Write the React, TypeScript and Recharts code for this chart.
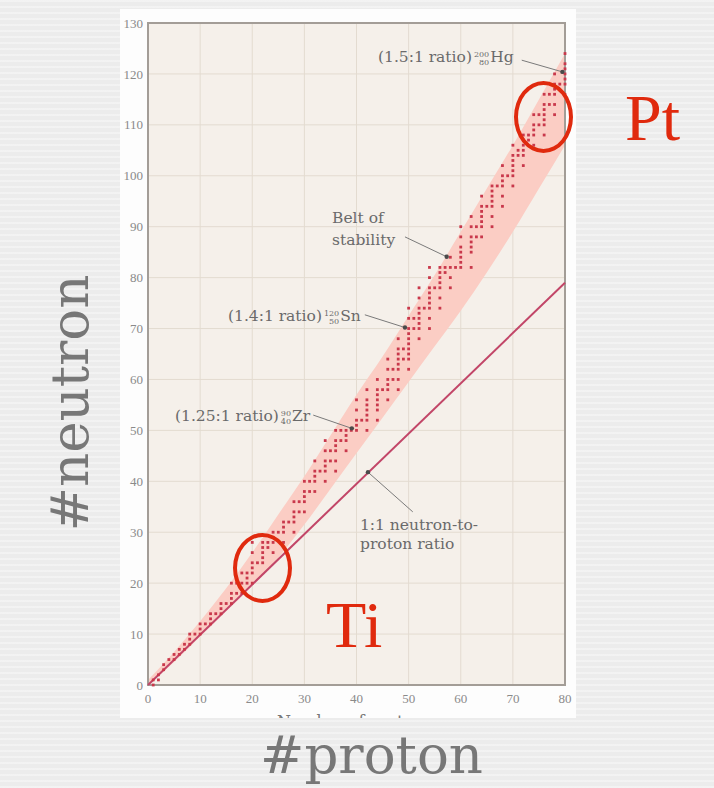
import {
  Area,
  CartesianGrid,
  ComposedChart,
  Line,
  ReferenceArea,
  ReferenceDot,
  ReferenceLine,
  Scatter,
  XAxis,
  YAxis,
} from 'recharts';

// axis ticks
const PROTON_TICKS = [0, 10, 20, 30, 40, 50, 60, 70, 80];
const NEUTRON_TICKS = [0, 10, 20, 30, 40, 50, 60, 70, 80, 90, 100, 110, 120, 130];

// belt of stability, lower / upper neutron edge at each proton number
const BELT_Z = [0, 5, 10, 15, 20, 25, 30, 35, 40, 45, 50, 55, 60, 65, 70, 75, 80];
const BELT_LOW = [0, 4.5, 9.5, 14.5, 19.5, 25, 31.5, 38.5, 45.5, 52.5, 59.5, 66.5, 73.5, 81, 89, 97.5, 106];
const BELT_HIGH = [1, 6.5, 12.5, 19, 26, 33.5, 41, 49, 57, 64.5, 72.5, 80.5, 89, 97.5, 106, 115, 124];

// 1:1 neutron-to-proton line
const RATIO_Z = [0, 80];
const RATIO_N = [0, 79];

// stable nuclides: [Z, neutron numbers]
const STABLE_NUCLIDES: [number, number[]][] = [
  [1, [0, 1]], [2, [1, 2]], [3, [3, 4]], [4, [5]], [5, [5, 6]],
  [6, [6, 7]], [7, [7, 8]], [8, [8, 9, 10]], [9, [10]], [10, [10, 11, 12]],
  [11, [12]], [12, [12, 13, 14]], [13, [14]], [14, [14, 15, 16]], [15, [16]],
  [16, [16, 17, 18, 20]], [17, [18, 20]], [18, [18, 20, 22]], [19, [20, 21, 22]],
  [20, [20, 22, 23, 24, 26, 28]], [21, [24]], [22, [24, 25, 26, 27, 28]], [23, [27, 28]],
  [24, [26, 28, 29, 30]], [25, [30]], [26, [28, 30, 31, 32]], [27, [32]],
  [28, [30, 32, 33, 34, 36]], [29, [34, 36]], [30, [34, 36, 37, 38, 40]], [31, [38, 40]],
  [32, [38, 40, 41, 42, 44]], [33, [42]], [34, [40, 42, 43, 44, 46, 48]], [35, [44, 46]],
  [36, [42, 44, 46, 47, 48, 50]], [37, [48, 50]], [38, [46, 48, 49, 50]], [39, [50]],
  [40, [50, 51, 52, 54, 56]], [41, [52]], [42, [50, 52, 53, 54, 55, 56, 58]],
  [44, [52, 54, 55, 56, 57, 58, 60]], [45, [58]], [46, [56, 58, 59, 60, 62, 64]],
  [47, [60, 62]], [48, [58, 60, 62, 63, 64, 65, 66, 68]], [49, [64, 66]],
  [50, [62, 64, 65, 66, 67, 68, 69, 70, 72, 74]], [51, [70, 72]],
  [52, [68, 70, 71, 72, 73, 74, 76, 78]], [53, [74]], [54, [70, 72, 74, 75, 76, 77, 78, 80, 82]],
  [55, [78]], [56, [74, 76, 78, 79, 80, 81, 82]], [57, [81, 82]], [58, [78, 80, 82, 84]],
  [59, [82]], [60, [82, 83, 84, 85, 86, 88, 90]], [62, [82, 85, 86, 87, 88, 90, 92]],
  [63, [88, 90]], [64, [88, 90, 91, 92, 93, 94, 96]], [65, [94]],
  [66, [90, 92, 94, 95, 96, 97, 98]], [67, [98]], [68, [94, 96, 98, 99, 100, 102]],
  [69, [100]], [70, [98, 100, 101, 102, 103, 104, 106]], [71, [104, 105]],
  [72, [102, 104, 105, 106, 107, 108]], [73, [107, 108]], [74, [106, 108, 109, 110, 112]],
  [75, [110, 112]], [76, [108, 110, 111, 112, 113, 114, 116]], [77, [114, 116]],
  [78, [112, 114, 116, 117, 118, 120]], [79, [118]], [80, [116, 118, 119, 120, 121, 122, 124]],
];

// annotation leader lines, from label to the marked point (z, n)
const LEADERS = [
  { from: [71.7, 122.7], to: [79.5, 120.4] },
  { from: [49.3, 88.0], to: [57.3, 84.1] },
  { from: [41.6, 72.7], to: [49.3, 70.2] },
  { from: [31.7, 53.0], to: [39.1, 50.4] },
  { from: [50.8, 34.0], to: [42.2, 41.8] },
];

const beltData = BELT_Z.map((z, i) => ({ z, belt: [BELT_LOW[i], BELT_HIGH[i]] }));
const ratioData = RATIO_Z.map((z, i) => ({ z, n: RATIO_N[i] }));
const nuclideData = STABLE_NUCLIDES.flatMap(([z, ns]) => ns.map((n) => ({ z, n })));

const SERIF = '"DejaVu Serif", serif';
const TIMES = '"Liberation Serif", serif';
const RED = '#e02a0e';

function NuclideDot(props: any) {
  const { cx, cy } = props;
  if (cx == null || cy == null) return null;
  return <rect x={cx - 1.4} y={cy - 1.4} width={2.8} height={2.8} fill="#c9384b" />;
}

function Isotope({ mass, atomic, symbol }: { mass: number; atomic: number; symbol: string }) {
  return (
    <>
      <span
        style={{
          display: 'inline-block',
          fontSize: 8,
          lineHeight: '8px',
          textAlign: 'right',
          verticalAlign: '-3px',
          margin: '0 1px 0 2px',
        }}
      >
        {mass}
        <br />
        {atomic}
      </span>
      {symbol}
    </>
  );
}

const noteStyle = (left: number, top: number, lineHeight = 18): React.CSSProperties => ({
  position: 'absolute',
  left,
  top,
  fontFamily: SERIF,
  fontSize: 15.5,
  lineHeight: `${lineHeight}px`,
  color: '#6a6a6a',
  whiteSpace: 'nowrap',
});

export default function App() {
  return (
    <div
      style={{
        position: 'absolute',
        left: 0,
        top: 0,
        width: 714,
        height: 788,
        overflow: 'hidden',
        background:
          'repeating-linear-gradient(0deg, rgba(255,255,255,0.35) 0px, rgba(255,255,255,0.35) 2px, rgba(0,0,0,0) 2px, rgba(0,0,0,0) 6px), #ececec',
      }}
    >
      <div
        style={{
          position: 'absolute',
          left: 120,
          top: 9,
          width: 456,
          height: 709,
          background: '#fdfdfd',
          overflow: 'hidden',
        }}
      >
        <ComposedChart
          width={456}
          height={709}
          data={beltData}
          margin={{ top: 14, right: 11, left: 4, bottom: 13 }}
        >
          <CartesianGrid fill="#f5f0ea" stroke="#e3dbd0" />
          <XAxis
            dataKey="z"
            type="number"
            domain={[0, 80]}
            ticks={PROTON_TICKS}
            height={20}
            axisLine={false}
            tickLine={false}
            tickSize={3}
            tickMargin={6}
            tick={{ fill: '#8a8a8a', fontSize: 13, fontFamily: TIMES }}
          />
          <YAxis
            type="number"
            domain={[0, 130]}
            ticks={NEUTRON_TICKS}
            width={24}
            axisLine={false}
            tickLine={false}
            tickSize={3}
            tickMargin={2}
            tick={{ fill: '#8a8a8a', fontSize: 13, fontFamily: TIMES }}
          />
          <Area
            type="monotone"
            dataKey="belt"
            fill="#fbcdc4"
            fillOpacity={1}
            stroke="none"
            isAnimationActive={false}
          />
          <Line
            data={ratioData}
            dataKey="n"
            type="linear"
            stroke="#c24668"
            strokeWidth={2}
            dot={false}
            isAnimationActive={false}
          />
          <Scatter data={nuclideData} dataKey="n" shape={NuclideDot} isAnimationActive={false} />
          {LEADERS.map((l, i) => (
            <ReferenceLine
              key={`lead-${i}`}
              segment={[
                { x: l.from[0], y: l.from[1] },
                { x: l.to[0], y: l.to[1] },
              ]}
              stroke="#7a7a7a"
              strokeWidth={1}
            />
          ))}
          {LEADERS.map((l, i) => (
            <ReferenceDot key={`tip-${i}`} x={l.to[0]} y={l.to[1]} r={2.2} fill="#4a4a4a" stroke="none" />
          ))}
          <ReferenceArea
            x1={0}
            x2={80}
            y1={0}
            y2={130}
            fill="none"
            fillOpacity={0}
            stroke="#a39d97"
            strokeWidth={2}
          />
        </ComposedChart>
        <div
          style={{
            position: 'absolute',
            left: 157,
            top: 705,
            fontFamily: SERIF,
            fontSize: 16,
            lineHeight: '16px',
            color: '#777',
            whiteSpace: 'nowrap',
          }}
        >
          Number of protons
        </div>
      </div>

      <div style={noteStyle(378, 48)}>
        (1.5:1 ratio)
        <Isotope mass={200} atomic={80} symbol="Hg" />
      </div>
      <div style={noteStyle(332, 207, 22)}>
        Belt of
        <br />
        stability
      </div>
      <div style={noteStyle(228, 307)}>
        (1.4:1 ratio)
        <Isotope mass={120} atomic={50} symbol="Sn" />
      </div>
      <div style={noteStyle(175, 407)}>
        (1.25:1 ratio)
        <Isotope mass={90} atomic={40} symbol="Zr" />
      </div>
      <div style={noteStyle(360, 516, 19)}>
        1:1 neutron-to-
        <br />
        proton ratio
      </div>

      <div
        style={{
          position: 'absolute',
          left: 233,
          top: 533,
          width: 59,
          height: 70,
          boxSizing: 'border-box',
          border: `4px solid ${RED}`,
          borderRadius: '50%',
        }}
      />
      <div
        style={{
          position: 'absolute',
          left: 514,
          top: 81,
          width: 59,
          height: 72,
          boxSizing: 'border-box',
          border: `4px solid ${RED}`,
          borderRadius: '50%',
        }}
      />
      <div
        style={{
          position: 'absolute',
          left: 625,
          top: 85,
          fontFamily: TIMES,
          fontSize: 66,
          lineHeight: '66px',
          color: RED,
        }}
      >
        Pt
      </div>
      <div
        style={{
          position: 'absolute',
          left: 326,
          top: 592,
          fontFamily: TIMES,
          fontSize: 66,
          lineHeight: '66px',
          color: RED,
        }}
      >
        Ti
      </div>

      <div
        style={{
          position: 'absolute',
          left: 70 - 160,
          top: 403 - 30,
          width: 320,
          height: 60,
          textAlign: 'center',
          fontFamily: SERIF,
          fontSize: 53,
          lineHeight: '60px',
          color: '#777',
          transform: 'rotate(-90deg)',
        }}
      >
        #neutron
      </div>
      <div
        style={{
          position: 'absolute',
          left: 260,
          top: 725,
          fontFamily: SERIF,
          fontSize: 53,
          lineHeight: '60px',
          color: '#777',
          whiteSpace: 'nowrap',
        }}
      >
        #proton
      </div>
    </div>
  );
}
